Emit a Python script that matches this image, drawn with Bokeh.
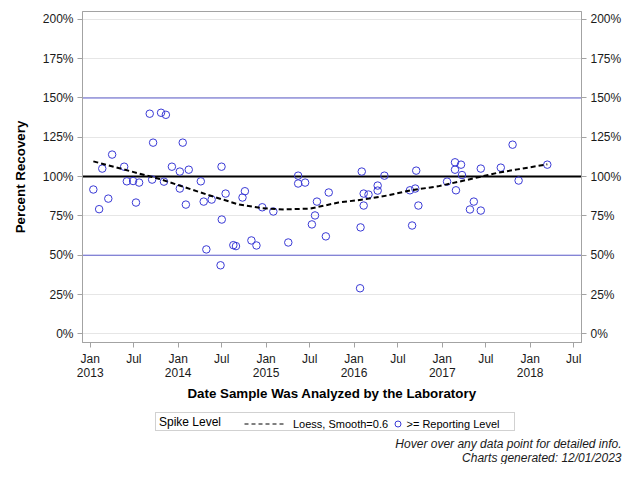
import pandas as pd
from bokeh.plotting import figure
from bokeh.layouts import column, row
from bokeh.models import (Range1d, FixedTicker, Span, Legend, LegendItem, LinearAxis, Label)
from bokeh.embed import file_html
from bokeh.resources import INLINE

# ---------------- data ----------------
sample_dates = [
    "2013-01-14", "2013-02-07", "2013-02-20", "2013-03-17", "2013-04-02", "2013-05-22", "2013-06-02", "2013-06-28", "2013-07-10", "2013-07-23",
    "2013-09-05", "2013-09-19", "2013-09-15", "2013-10-22", "2013-11-11", "2013-11-03", "2013-12-06", "2014-01-08", "2014-01-08", "2014-01-20",
    "2014-02-02", "2014-02-14", "2014-04-05", "2014-04-17", "2014-04-28", "2014-05-20", "2014-06-30", "2014-07-01", "2014-06-26", "2014-07-17",
    "2014-08-18", "2014-08-29", "2014-09-25", "2014-10-05", "2014-11-01", "2014-11-22", "2014-12-16", "2015-01-31", "2015-04-03", "2015-05-14",
    "2015-05-14", "2015-06-12", "2015-07-10", "2015-07-23", "2015-07-31", "2015-09-06", "2015-09-18", "2016-01-26", "2016-01-28", "2016-02-02",
    "2016-02-10", "2016-02-10", "2016-03-01", "2016-04-08", "2016-04-08", "2016-05-06", "2016-08-20", "2016-08-29", "2016-09-11", "2016-09-15",
    "2016-09-24", "2017-01-21", "2017-02-23", "2017-02-23", "2017-03-20", "2017-03-24", "2017-02-27", "2017-04-26", "2017-05-12", "2017-06-10",
    "2017-06-10", "2017-09-01", "2017-10-20", "2017-11-14", "2018-03-13",
]
recovery_pct = [
    91.8, 79.3, 105.1, 86.0, 114.0, 106.3, 97.0, 97.2, 83.5, 96.2,
    140.0, 121.6, 98.1, 140.6, 139.3, 96.8, 106.3, 103.2, 92.4, 121.6,
    82.2, 104.4, 97.0, 84.1, 53.7, 85.4, 106.3, 72.7, 43.6, 89.2,
    56.4, 55.8, 86.7, 90.7, 59.4, 56.2, 80.5, 77.8, 58.1, 100.6,
    95.6, 96.2, 69.6, 75.3, 84.1, 62.0, 89.9, 29.0, 67.7, 103.2,
    89.2, 81.6, 88.6, 94.3, 91.1, 100.6, 91.3, 68.9, 92.4, 103.8,
    81.6, 96.8, 109.1, 104.4, 107.6, 101.0, 91.3, 79.1, 84.1, 78.4,
    105.1, 105.7, 120.3, 97.5, 107.6,
]
loess_dates = [
    "2013-01-14", "2013-10-16", "2014-05-10", "2014-09-11", "2014-12-15", "2015-03-15", "2015-07-05", "2015-10-28",
    "2016-02-16", "2016-05-22", "2016-08-24", "2016-12-14", "2017-04-16", "2017-08-18", "2017-11-09", "2018-03-13",
]
loess_pct = [109.7, 98.5, 88.1, 82.2, 79.9, 79.1, 79.7, 83.5, 85.6, 88.1, 91.3, 93.8, 98.0, 102.4, 104.6, 107.8]

x_tick_dates = ["2013-01-01", "2013-07-01", "2014-01-01", "2014-07-01", "2015-01-01", "2015-07-01",
                "2016-01-01", "2016-07-01", "2017-01-01", "2017-07-01", "2018-01-01", "2018-07-01"]
x_tick_labels = ["Jan\n2013", "Jul", "Jan\n2014", "Jul", "Jan\n2015", "Jul",
                 "Jan\n2016", "Jul", "Jan\n2017", "Jul", "Jan\n2018", "Jul"]
y_ticks = [0, 25, 50, 75, 100, 125, 150, 175, 200]
y_tick_labels = ["0%", "25%", "50%", "75%", "100%", "125%", "150%", "175%", "200%"]
spike_levels = [50, 100, 150]
x_limits = ["2012-11-30", "2018-08-02"]
y_limits = [-5.5, 205]
legend_title = "Spike Level"
footer_lines = ["Hover over any data point for detailed info.", "Charts generated: 12/01/2023"]


def ms(d):
    return pd.Timestamp(d).timestamp() * 1000.0


xs = [ms(d) for d in sample_dates]
lx = [ms(d) for d in loess_dates]
xticks = [ms(d) for d in x_tick_dates]

FONT = "Liberation Sans"
GRAY = "#a3a3a3"
BLUE = "#3a3ad6"
W = 624
H_MAIN = 403
H_FOOT = 61

p = figure(width=W, height=H_MAIN, output_backend="svg", toolbar_location=None, title=None,
           x_range=Range1d(ms(x_limits[0]), ms(x_limits[1])), y_range=Range1d(*y_limits),
           min_border_left=82, min_border_right=42, min_border_top=11, min_border_bottom=61)
p.outline_line_color = GRAY
p.background_fill_color = "white"
p.border_fill_color = "white"

p.xgrid.visible = False
yt = FixedTicker(ticks=y_ticks)
p.ygrid.ticker = yt
p.ygrid.grid_line_color = "#e6e6e6"
p.ygrid.grid_line_width = 1
p.ygrid.level = "underlay"


def style_axis(ax):
    ax.axis_line_color = GRAY
    ax.major_tick_line_color = GRAY
    ax.major_tick_in = 0
    ax.major_tick_out = 5
    ax.minor_tick_line_color = None
    ax.major_label_text_font = FONT
    ax.major_label_text_font_size = "12px"
    ax.major_label_text_color = "#1a1a1a"
    ax.axis_label_text_font = FONT
    ax.axis_label_text_font_size = "13.33px"
    ax.axis_label_text_font_style = "bold"
    ax.axis_label_text_color = "black"


xa = p.xaxis[0]
xa.ticker = FixedTicker(ticks=xticks)
xa.major_label_overrides = dict(zip(xticks, x_tick_labels))
xa.axis_label = "Date Sample Was Analyzed by the Laboratory"
style_axis(xa)
xa.major_label_text_line_height = 1.0
xa.major_label_standoff = 4
xa.axis_label_standoff = 3

ya = p.yaxis[0]
ya.ticker = yt
ya.major_label_overrides = dict(zip(y_ticks, y_tick_labels))
ya.axis_label = "Percent Recovery"
style_axis(ya)
ya.major_label_standoff = 4
ya.axis_label_standoff = 12

ra = LinearAxis(ticker=yt, major_label_overrides=dict(zip(y_ticks, y_tick_labels)))
style_axis(ra)
ra.major_label_standoff = 4
p.add_layout(ra, "right")

for lvl in spike_levels:
    if lvl == 100:
        p.add_layout(Span(location=lvl, dimension="width", line_color="black", line_width=2, level="underlay"))
    else:
        p.add_layout(Span(location=lvl, dimension="width", line_color="#5f5fcf", line_width=1, level="underlay"))

p.scatter(xs, recovery_pct, marker="circle", size=7.5, fill_color=None, line_color=BLUE, line_width=1)
p.line(lx, loess_pct, line_color="black", line_width=2, line_dash="5 3")

# ---------------- footer strip: legend + notes ----------------
f = figure(width=W, height=H_FOOT, output_backend="svg", toolbar_location=None, title=None,
           x_range=Range1d(0, 1), y_range=Range1d(0, 1), x_axis_location=None, y_axis_location=None,
           min_border=0, min_border_left=0, min_border_right=0, min_border_top=0, min_border_bottom=0)
f.xgrid.visible = False
f.ygrid.visible = False
f.outline_line_color = None
f.background_fill_color = "white"
f.border_fill_color = "white"

NAN = float("nan")
# legend-only proxies (no visible data) styled like the main-plot marks
key_none = f.line(x=[NAN], y=[NAN], line_alpha=0)
key_line = f.line(x=[NAN], y=[NAN], line_color="black", line_width=1, line_dash="4 3")
key_pts = f.scatter(x=[NAN], y=[NAN], marker="circle", size=7.5, fill_color=None, line_color=BLUE, line_width=1)

common = dict(orientation="horizontal", margin=0, label_text_font=FONT, label_text_color="black")
leg_box = Legend(items=[LegendItem(label=legend_title, renderers=[key_none])],
                 location=(155, 33), padding=0, glyph_width=3, glyph_height=17, label_height=17,
                 label_standoff=0, label_width=355, label_text_font_size="12px",
                 border_line_color=GRAY, border_line_width=1, background_fill_color="white",
                 background_fill_alpha=1.0, **common)
leg_line = Legend(items=[LegendItem(label="Loess, Smooth=0.6", renderers=[key_line])],
                  location=(244, 33), padding=1, glyph_width=42, glyph_height=15, label_height=15,
                  label_standoff=7, label_text_font_size="11px",
                  border_line_color=None, background_fill_alpha=0, **common)
leg_pts = Legend(items=[LegendItem(label=">= Reporting Level", renderers=[key_pts])],
                 location=(389.5, 33), padding=1, glyph_width=15, glyph_height=15, label_height=15,
                 label_standoff=2, label_text_font_size="11px",
                 border_line_color=None, background_fill_alpha=0, **common)
for lg in (leg_box, leg_line, leg_pts):
    f.add_layout(lg, "center")

for txt, yy in zip(footer_lines, [21, 7]):
    f.add_layout(Label(x=621, y=yy, x_units="screen", y_units="screen", text=txt,
                       text_align="right", text_baseline="middle", text_font=FONT,
                       text_font_style="italic", text_font_size="12px", text_color="#1a1a1a"))

layout = column(p, row(f), spacing=0)
open("out.html", "w").write(file_html(layout, INLINE))
